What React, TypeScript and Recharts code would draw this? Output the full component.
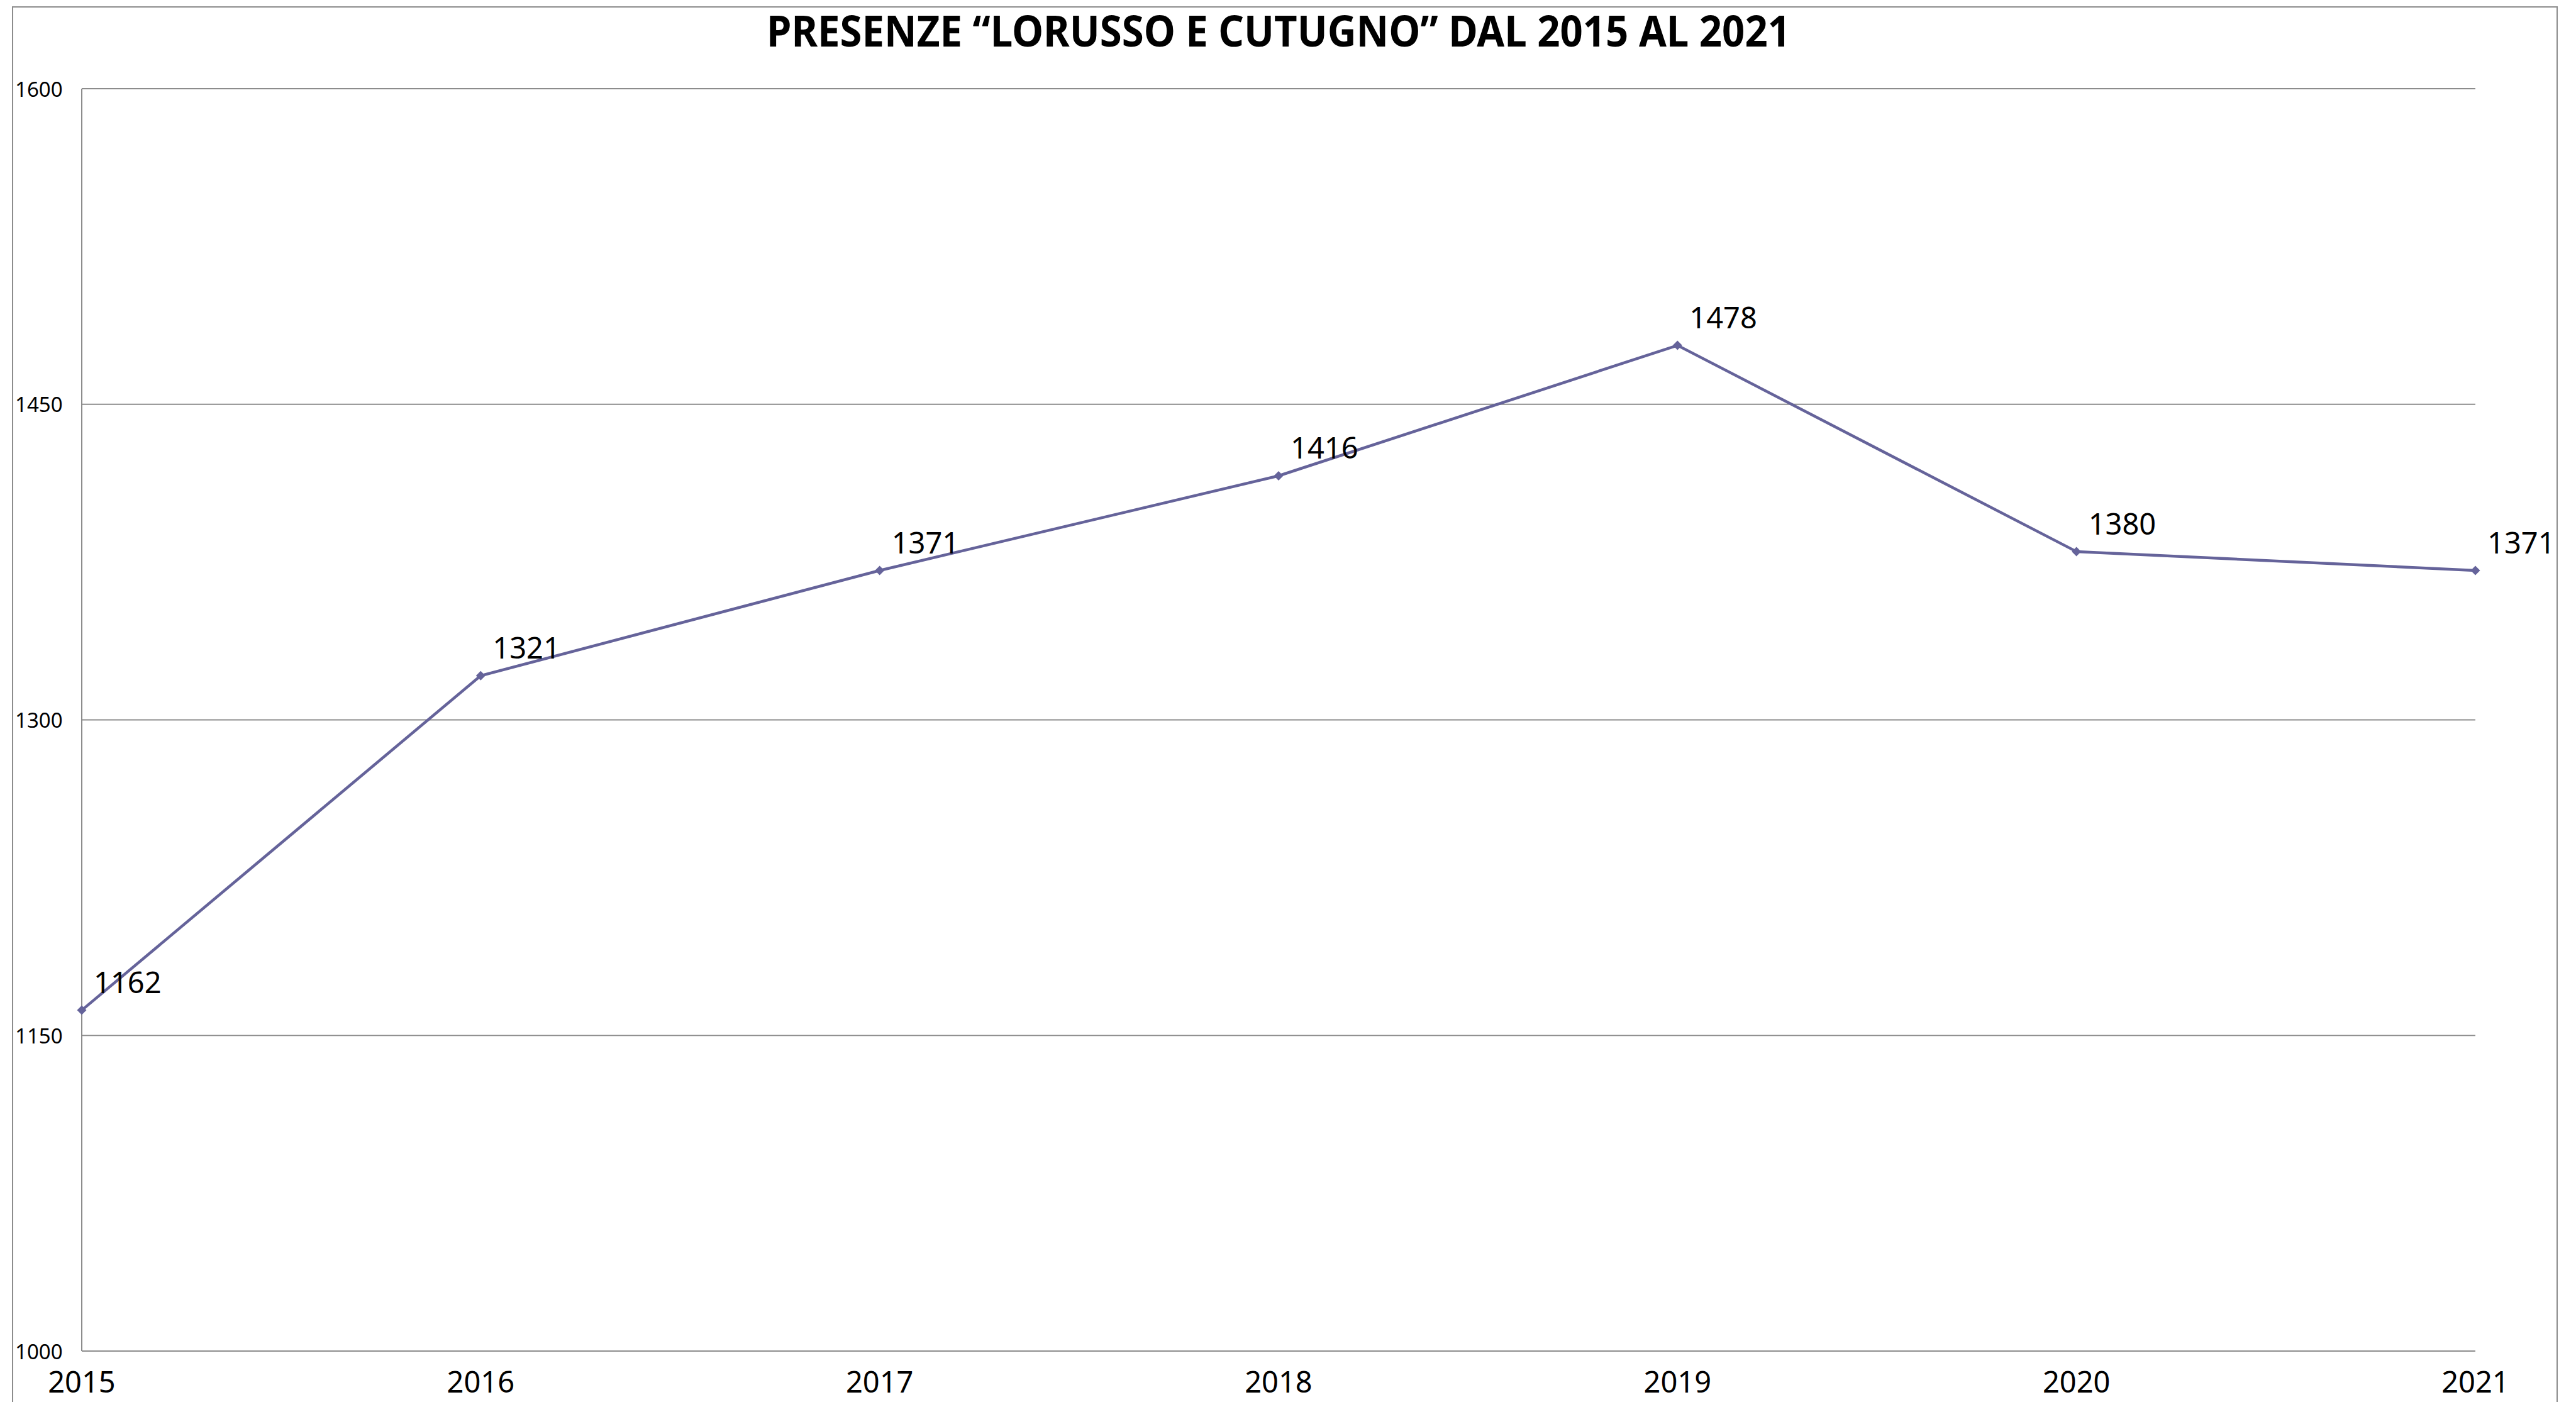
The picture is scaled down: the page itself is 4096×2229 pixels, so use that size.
import React from 'react'
import { LineChart, Line, XAxis, YAxis, CartesianGrid, LabelList } from 'recharts'

const years = ['2015', '2016', '2017', '2018', '2019', '2020', '2021']
const presenze = [1162, 1321, 1371, 1416, 1478, 1380, 1371]
const yTicks = [1000, 1150, 1300, 1450, 1600]

const data = years.map((year, i) => ({ year, value: presenze[i] }))

const W = 4096
const H = 2229
const FONT = '"Noto Sans", sans-serif'
const GRID = '#8c8c8c'
const LINE = '#65639a'

function YTick(props: any) {
  const { y, payload } = props
  return (
    <text x={24} y={y} dominantBaseline="central" fontFamily={FONT} fontSize={33} fill="#000">
      {payload.value}
    </text>
  )
}

function XTick(props: any) {
  const { x, y, payload } = props
  return (
    <text x={x} y={y + 66} textAnchor="middle" fontFamily={FONT} fontSize={47} fill="#000">
      {payload.value}
    </text>
  )
}

function Diamond(props: any) {
  const { cx, cy } = props
  if (cx == null || cy == null) return null
  const r = 7.5
  return <polygon points={`${cx},${cy - r} ${cx + r},${cy} ${cx},${cy + r} ${cx - r},${cy}`} fill={LINE} />
}

function ValueLabel(props: any) {
  const { x, y, value } = props
  return (
    <text x={x + 19} y={y - 27} fontFamily={FONT} fontSize={47} fill="#000">
      {value}
    </text>
  )
}

export default function App() {
  return (
    <div style={{ position: 'absolute', left: 0, top: 0, width: W, height: H, background: '#fff', overflow: 'hidden' }}>
      <svg width={W} height={H} style={{ position: 'absolute', left: 0, top: 0 }}>
        <rect x={20} y={11} width={4046} height={H + 20} fill="none" stroke={GRID} strokeWidth={2} />
        <text
          x={2033}
          y={74}
          textAnchor="middle"
          fontFamily={FONT}
          fontWeight="bold"
          fontSize={68}
          textLength={1628}
          lengthAdjust="spacingAndGlyphs"
          fill="#000"
        >
          PRESENZE “LORUSSO E CUTUGNO” DAL 2015 AL 2021
        </text>
      </svg>
      <div style={{ position: 'absolute', left: 0, top: 0 }}>
        <LineChart width={W} height={H} data={data} margin={{ top: 141, right: 160, bottom: 0, left: 0 }}>
          <CartesianGrid vertical={false} horizontal={true} stroke={GRID} strokeWidth={2} />
          <XAxis
            dataKey="year"
            height={81}
            tickSize={0}
            tickMargin={0}
            tickLine={false}
            axisLine={{ stroke: GRID, strokeWidth: 2 }}
            tick={<XTick />}
            interval={0}
          />
          <YAxis
            width={130}
            domain={[1000, 1600]}
            ticks={yTicks}
            tickSize={0}
            tickLine={false}
            axisLine={{ stroke: GRID, strokeWidth: 2 }}
            tick={<YTick />}
            interval={0}
          />
          <Line
            type="linear"
            dataKey="value"
            stroke={LINE}
            strokeWidth={4.5}
            dot={<Diamond />}
            activeDot={false}
            isAnimationActive={false}
          >
            <LabelList dataKey="value" content={<ValueLabel />} />
          </Line>
        </LineChart>
      </div>
    </div>
  )
}
